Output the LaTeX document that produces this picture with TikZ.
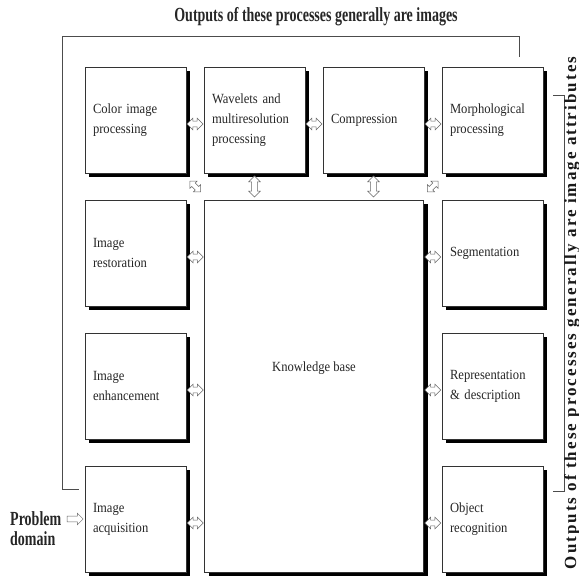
\documentclass[tikz,border=0pt]{standalone}
\usepackage{fontspec}
\setmainfont{Liberation Serif}[FakeStretch=0.9]
\newfontfamily\narrowbf{Liberation Serif}[FakeStretch=0.7]
\newfontfamily\widebf{Liberation Serif}[LetterSpace=12]
\usetikzlibrary{shapes.arrows,shadows,calc}

\begin{document}
\begin{tikzpicture}[x=1pt,y=1pt,node distance=119pt,
  proc node/.style={draw=black!80,line width=.6pt,fill=white,
    drop shadow={shadow xshift=4pt,shadow yshift=-4pt,opacity=1,fill=black},
    minimum width=101pt,minimum height=106pt,inner sep=0pt,
    text width=85pt,align=left,text=black!85,
    font=\fontsize{14}{20}\selectfont},
  both arrow/.style={double arrow,draw=black!60,line width=.5pt,fill=white,
    minimum height=16pt,inner xsep=0pt,inner ysep=2.6pt,
    double arrow head extend=3pt},
  side label/.style={font=\narrowbf\bfseries\fontsize{20}{20}\selectfont,text=black!85},
  feedback/.style={draw=black!70,line width=.7pt}]
  \useasboundingbox (0,0) rectangle (579,-577);

  % processing boxes
  \node[proc node] (color) at (135.5,-120) {Color image\\processing};
  \node[proc node] (wave)  [right of=color] {Wavelets and\\multiresolution\\processing};
  \node[proc node] (comp)  [right of=wave]  {Compression};
  \node[proc node] (morph) [right of=comp]  {Morphological\\processing};
  \node[proc node] (rest)  [node distance=133pt,below of=color] {Image\\restoration};
  \node[proc node] (enh)   [node distance=133pt,below of=rest]  {Image\\enhancement};
  \node[proc node] (acq)   [node distance=133pt,below of=enh]   {Image\\acquisition};
  \node[proc node] (seg)   [node distance=133pt,below of=morph] {Segmentation};
  \node[proc node] (rep)   [node distance=133pt,below of=seg]   {Representation\\\& description};
  \node[proc node] (obj)   [node distance=133pt,below of=rep]   {Object\\recognition};
  \node[proc node,minimum width=219pt,minimum height=372pt,text width=,
    label={[yshift=18pt,font=\fontsize{14}{20}\selectfont,text=black!85]center:Knowledge base}]
    (kb) at ($(rest)!.5!(obj)$) {};

  % hollow arrows
  \node[both arrow] (ar1) at ($(color.east)!.5!(wave.west)+(0,-4)$) {};
  \node[both arrow] (ar2) at ($(wave.east)!.5!(comp.west)+(0,-4)$) {};
  \node[both arrow] (ar3) at ($(comp.east)!.5!(morph.west)+(0,-4)$) {};
  \node[both arrow] (al2) at ($(rest.east)!.5!(rest.east-|kb.west)+(0,-4)$) {};
  \node[both arrow] (al3) at ($(enh.east)!.5!(enh.east-|kb.west)+(0,-4)$) {};
  \node[both arrow] (al4) at ($(acq.east)!.5!(acq.east-|kb.west)+(0,-4)$) {};
  \node[both arrow] (ag2) at ($(seg.west)!.5!(seg.west-|kb.east)+(0,-4)$) {};
  \node[both arrow] (ag3) at ($(rep.west)!.5!(rep.west-|kb.east)+(0,-4)$) {};
  \node[both arrow] (ag4) at ($(obj.west)!.5!(obj.west-|kb.east)+(0,-4)$) {};
  \node[both arrow,rotate=90,minimum height=21pt] (av1) at ($(wave.south)!.5!(wave.south|-kb.north)$) {};
  \node[both arrow,rotate=90,minimum height=21pt] (av2) at ($(comp.south)!.5!(comp.south|-kb.north)$) {};
  \node[both arrow,rotate=-45,minimum height=15pt,inner ysep=2.2pt,double arrow head extend=2.6pt]
    (ad1) at ($(color.south east)!.5!(kb.north west)$) {};
  \node[both arrow,rotate=45,minimum height=15pt,inner ysep=2.2pt,double arrow head extend=2.6pt]
    (ad2) at ($(morph.south west)!.5!(kb.north east)$) {};

  % problem domain
  \node[single arrow,draw=black!60,line width=.5pt,fill=white,minimum height=16pt,
    inner xsep=0pt,inner ysep=2.6pt,single arrow head extend=3pt]
    (pin) at ($(acq.west)+(-11,0)$) {};
  \node[side label,align=left,anchor=north west,inner sep=0pt] (prob) at (10,-511) {Problem\\domain};

  % outputs
  \coordinate (fbk) at (62,-36);
  \draw[feedback] ([xshift=27pt,yshift=10pt]morph.north) |- (fbk) |- ([xshift=-6pt,yshift=30pt]acq.west);
  \draw[feedback] ([xshift=10pt,yshift=25pt]morph.east) -- ++(11,0) |- ([xshift=10pt,yshift=28pt]obj.east);
  \node[side label] (outimg) at (316,-17) {Outputs of these processes generally are images};
  \node[font=\widebf\bfseries\fontsize{17}{17}\selectfont,text=black!90,rotate=90]
    (outattr) at (572,-313) {Outputs of these processes generally are image attributes};
\end{tikzpicture}
\end{document}
